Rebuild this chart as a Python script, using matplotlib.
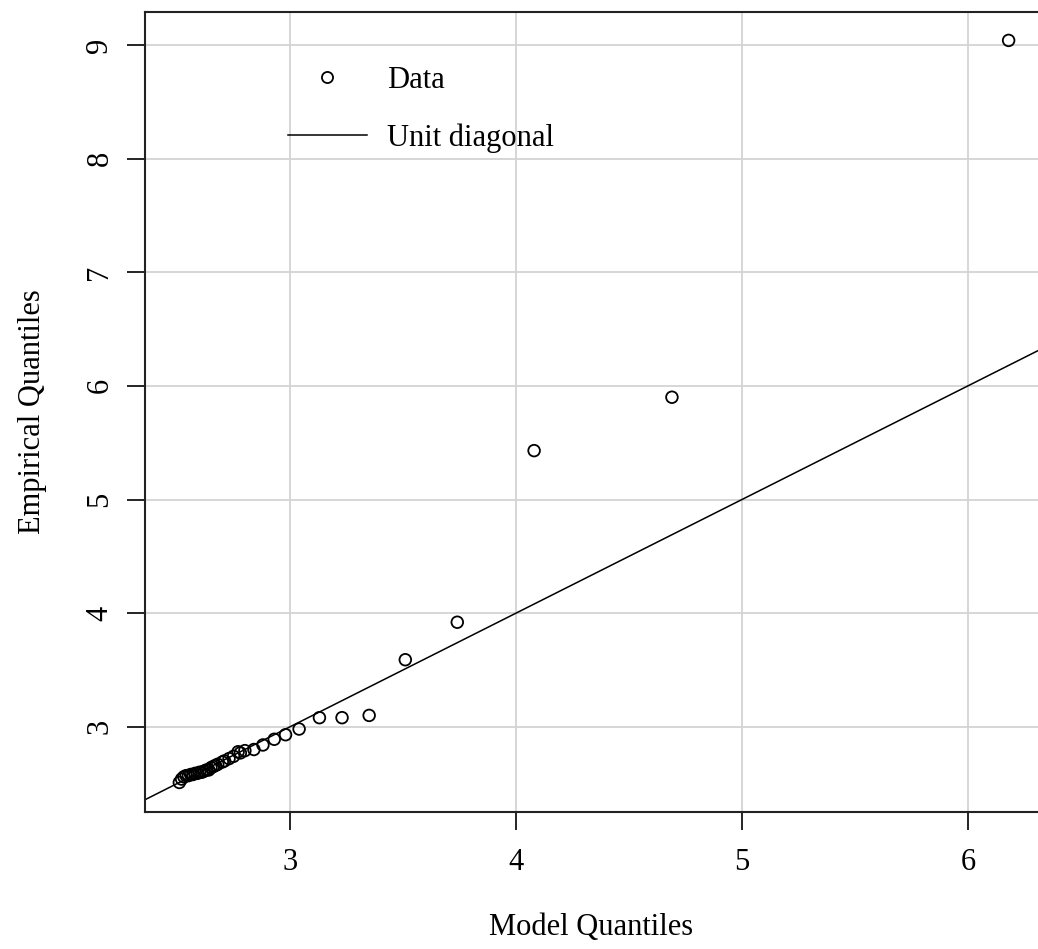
import matplotlib
matplotlib.use("Agg")
import matplotlib.pyplot as plt
from matplotlib.lines import Line2D

model_q = [2.51, 2.52, 2.53, 2.54, 2.55, 2.56, 2.57, 2.58, 2.59, 2.60, 2.61, 2.62,
           2.63, 2.64, 2.65, 2.66, 2.67, 2.68, 2.70, 2.71, 2.73, 2.75, 2.77, 2.78,
           2.80, 2.84, 2.88, 2.93, 2.98, 3.04, 3.13, 3.23, 3.35, 3.51, 3.74, 4.08,
           4.69, 6.18]
empirical_q = [2.51, 2.54, 2.56, 2.57, 2.57, 2.58, 2.58, 2.59, 2.59, 2.60, 2.60, 2.61,
               2.62, 2.62, 2.64, 2.65, 2.66, 2.67, 2.69, 2.70, 2.72, 2.74, 2.78, 2.77,
               2.79, 2.80, 2.84, 2.89, 2.93, 2.98, 3.08, 3.08, 3.10, 3.59, 3.92, 5.43,
               5.90, 9.04]
x_ticks = [3, 4, 5, 6]
y_ticks = [3, 4, 5, 6, 7, 8, 9]
diag = [2.0, 7.0]

plt.rcParams['font.family'] = ['Liberation Serif', 'DejaVu Serif']

W, H = 1038, 949
fig = plt.figure(figsize=(W / 100, H / 100), dpi=100)
left, right, top, bottom = 145, 1038, 12, 812
ax = fig.add_axes([left / W, 1 - bottom / H, (right - left) / W, (bottom - top) / H])

ax.set_xlim(2.358, 6.31)
ax.set_ylim(2.25, 9.29)

ax.grid(True, color='#d3d3d3', linewidth=1.3)
ax.set_axisbelow(True)

ax.plot(diag, diag, color='black', linewidth=1.1, zorder=2)
ax.scatter(model_q, empirical_q, s=70, facecolors='none', edgecolors='black',
           linewidths=1.3, zorder=3)

fs = 22
ax.set_xticks(x_ticks)
ax.set_yticks(y_ticks)
ax.set_xticklabels([str(v) for v in x_ticks], fontsize=fs)
ax.set_yticklabels([str(v) for v in y_ticks], fontsize=fs, rotation=90, va='center')
ax.tick_params(axis='x', direction='out', length=13, width=1.2, colors='black', pad=13)
ax.tick_params(axis='y', direction='out', length=13, width=1.2, colors='black', pad=9)

for s in ['left', 'bottom', 'top']:
    ax.spines[s].set_linewidth(1.5)
    ax.spines[s].set_color('#222222')
ax.spines['right'].set_visible(False)

ax.set_xlabel('Model Quantiles', fontsize=fs, labelpad=26)
ax.set_ylabel('Empirical Quantiles', fontsize=fs, labelpad=28)

handles = [Line2D([0], [0], marker='o', linestyle='none', markerfacecolor='none',
                  markeredgecolor='black', markersize=8, markeredgewidth=1.3),
           Line2D([0], [0], color='black', linewidth=1.1)]
leg = ax.legend(handles, ['Data', 'Unit diagonal'], loc='upper left',
                bbox_to_anchor=((260 - left) / (right - left), 1 - (38 - top) / (bottom - top)),
                frameon=False, fontsize=fs, handlelength=2.6, handletextpad=0.65,
                labelspacing=0.95)

fig.savefig('out.png', dpi=100)
